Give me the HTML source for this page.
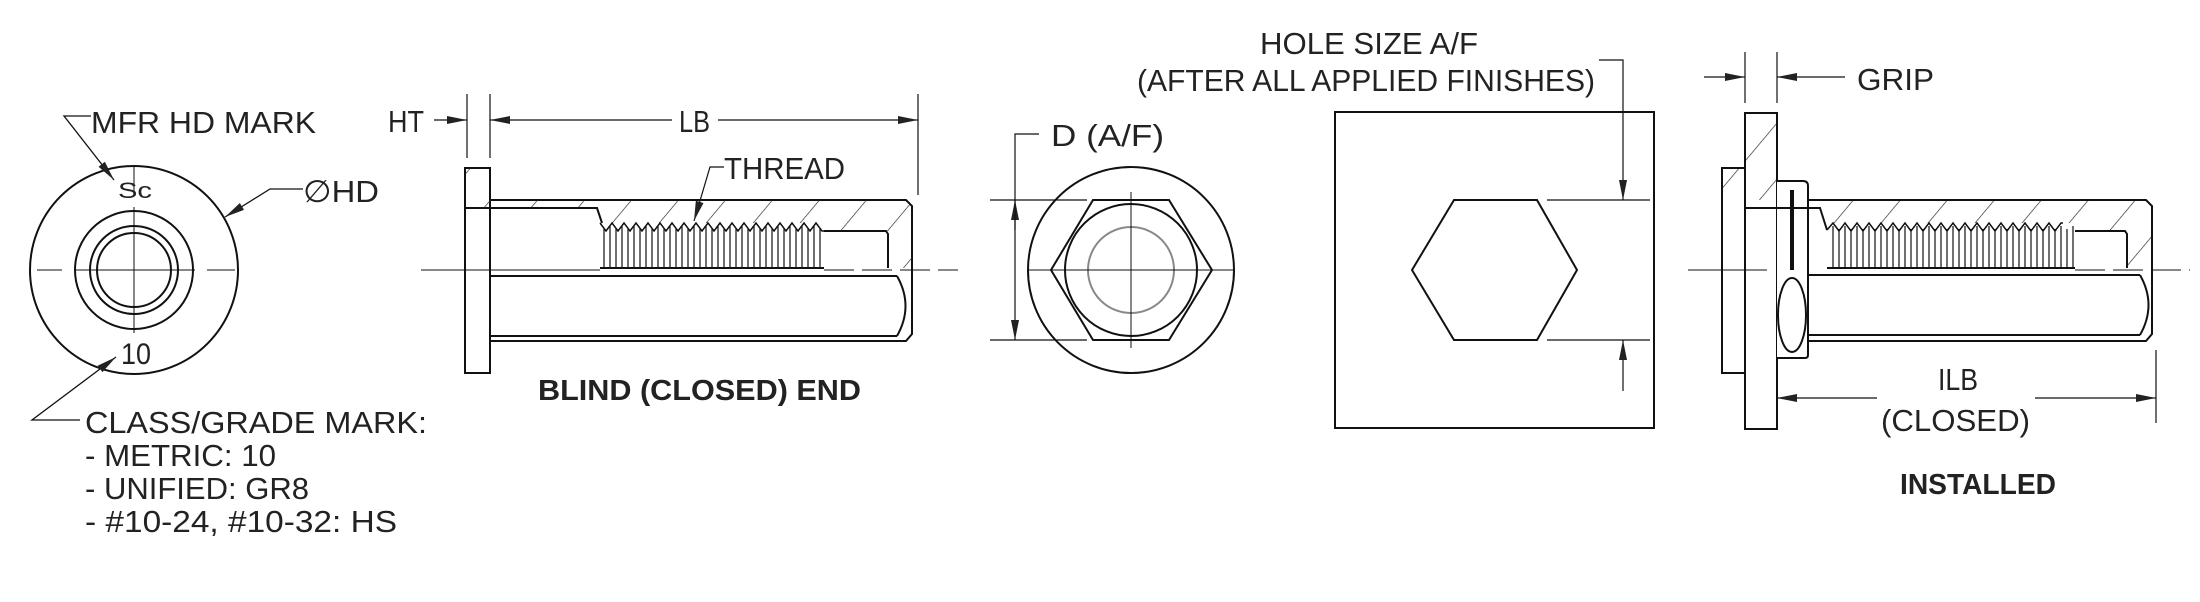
<!DOCTYPE html>
<html><head><meta charset="utf-8"><style>
html,body{margin:0;padding:0;background:#fff;}
svg{display:block;}
text{font-family:"Liberation Sans",sans-serif;fill:#222;}
.t{font-size:31px;}
.b{font-size:29px;font-weight:bold;}
</style></head><body>
<svg width="2200" height="602" viewBox="0 0 2200 602" xmlns="http://www.w3.org/2000/svg">
<defs>
<pattern id="h" width="36" height="36" patternUnits="userSpaceOnUse" patternTransform="rotate(40)">
<line x1="0" y1="0" x2="0" y2="36" stroke="#222" stroke-width="1.3"/>
</pattern>
<marker id="a" viewBox="0 0 20 8" refX="20" refY="4" markerWidth="20" markerHeight="8" markerUnits="userSpaceOnUse" orient="auto">
<path d="M0,0 L20,4 L0,8 z" fill="#222"/>
</marker>
</defs>
<g fill="none" stroke="#111" stroke-width="2">
<!-- left head view -->
<circle cx="134" cy="270" r="104"/>
<circle cx="134" cy="270" r="59"/>
<circle cx="134" cy="270" r="44"/>
<circle cx="134" cy="270" r="37"/>
<g stroke-width="1">
<line x1="37" y1="270" x2="62" y2="270"/><line x1="75" y1="270" x2="195" y2="270"/><line x1="207" y1="270" x2="235" y2="270"/>
<line x1="134" y1="167" x2="134" y2="195"/><line x1="134" y1="207" x2="134" y2="333"/>
</g>
<g stroke-width="1.3">
<polyline points="91,116 64,116 114,180" marker-end="url(#a)"/>
<polyline points="303,189 270,189 225,217" marker-end="url(#a)"/>
<polyline points="80,420 32,420 116,357" marker-end="url(#a)"/>
</g>

<!-- blind section view -->
<rect x="465" y="168" width="25" height="205"/>
<path d="M490,200 H906 L912,206 V334 L906,341 H490"/>
<path d="M490,208 H597 L602,223" />
<path d="M465,208 H490"/>
<path d="M824,231 H886 L888,234 V268"/>
<path d="M490,276 H897 M490,336 H897 M897,276 Q914,306 897,336" />
<path d="M1001,0" />
<!-- hatching blind -->
<path fill="url(#h)" stroke="none" d="M465,168 H490 V200 H906 L912,206 V268 H888 V231 H824 V223 H600 V208 H465 Z"/>
<path stroke-width="1.5" d="M600,223 l6,8 l6,-8 l6,8 l6,-8 l6,8 l6,-8 l6,8 l6,-8 l6,8 l6,-8 l6,8 l6,-8 l6,8 l6,-8 l6,8 l6,-8 l6,8 l6,-8 l6,8 l6,-8 l6,8 l6,-8 l6,8 l6,-8 l6,8 l6,-8 l6,8 l6,-8 l6,8 l6,-8 l6,8 l6,-8 l6,8 l6,-8 l6,8 l6,-8 l6,8 l2,0"/>
<g stroke-width="1.2">
<path d="M604,229V268M610,226V268M616,229V268M622,226V268M628,229V268M634,226V268M640,229V268M646,226V268M652,229V268M658,226V268M664,229V268M670,226V268M676,229V268M682,226V268M688,229V268M694,226V268M700,229V268M706,226V268M712,229V268M718,226V268M724,229V268M730,226V268M736,229V268M742,226V268M748,229V268M754,226V268M760,229V268M766,226V268M772,229V268M778,226V268M784,229V268M790,226V268M796,229V268M802,226V268M808,229V268M814,226V268M820,229V268"/>
</g>
<path stroke-width="2" d="M600,268 H824"/>
<line stroke-width="1" x1="421" y1="270" x2="600" y2="270"/>
<line stroke-width="1" x1="824" y1="270" x2="958" y2="270" stroke-dasharray="30,8"/>
<!-- HT / LB dims -->
<g stroke-width="1.2">
<line x1="467" y1="94" x2="467" y2="158"/><line x1="490" y1="94" x2="490" y2="158"/>
<line x1="918" y1="94" x2="918" y2="195"/>
<line x1="434" y1="120" x2="467" y2="120" marker-end="url(#a)"/>
<line x1="672" y1="120" x2="490" y2="120" marker-end="url(#a)"/>
<line x1="718" y1="120" x2="918" y2="120" marker-end="url(#a)"/>
<polyline points="724,167 710,167 694,221" marker-end="url(#a)"/>
</g>

<!-- hex view -->
<circle cx="1131" cy="270" r="103"/>
<polygon points="1093,200 1169,200 1212,270 1169,340 1093,340 1051,270"/>
<circle cx="1131" cy="270" r="66"/>
<circle cx="1131" cy="270" r="43" stroke="#888"/>
<g stroke-width="1">
<line x1="1131" y1="192" x2="1131" y2="348"/>
<line x1="1028" y1="270" x2="1234" y2="270"/>
</g>
<g stroke-width="1.2">
<line x1="990" y1="200" x2="1087" y2="200"/>
<line x1="990" y1="340" x2="1087" y2="340"/>
<line x1="1015" y1="230" x2="1015" y2="200" marker-end="url(#a)"/>
<line x1="1015" y1="310" x2="1015" y2="340" marker-end="url(#a)"/>
<polyline points="1015,230 1015,134 1039,134"/>
<line x1="1015" y1="230" x2="1015" y2="310"/>
</g>

<!-- plate -->
<rect x="1335" y="112" width="319" height="316"/>
<polygon points="1454,200 1537,200 1577,270 1537,340 1454,340 1412,270"/>
<g stroke-width="1.2">
<line x1="1547" y1="200" x2="1650" y2="200"/>
<line x1="1547" y1="340" x2="1650" y2="340"/>
<polyline points="1599,60 1623,60 1623,200" marker-end="url(#a)"/>
<polyline points="1623,391 1623,340" marker-end="url(#a)"/>
</g>

<!-- installed -->
<path fill="url(#h)" stroke="none" d="M1745,113 H1777 V200 H1745 Z M1722,168 H1745 V208 H1722 Z M1808,200 H2146 L2152,206 V268 H2127 V231 H2075 V223 H1827 L1820,208 H1777 V181 H1808 Z"/>
<rect x="1745" y="113" width="32" height="316"/>
<rect x="1722" y="168" width="23" height="205"/>
<path fill="#fff" d="M1777,181 H1803 Q1808,181 1808,186 V355 Q1808,358 1805,358 H1777"/>
<path d="M1745,208 H1820 L1827,230"/>
<path d="M1808,200 H2146 L2152,206 V334 L2146,341 H1808"/>
<path d="M2075,231 H2125 L2127,234 V268"/>
<path d="M1808,275 H2140 M1808,335 H2140 M2140,275 Q2157,305 2140,335"/>
<ellipse cx="1792" cy="315" rx="14" ry="37"/>
<line x1="1792" y1="190" x2="1792" y2="270" stroke-width="4"/>
<path stroke-width="1.5" d="M1827,230 l6,-7 l6,8 l6,-8 l6,8 l6,-8 l6,8 l6,-8 l6,8 l6,-8 l6,8 l6,-8 l6,8 l6,-8 l6,8 l6,-8 l6,8 l6,-8 l6,8 l6,-8 l6,8 l6,-8 l6,8 l6,-8 l6,8 l6,-8 l6,8 l6,-8 l6,8 l6,-8 l6,8 l6,-8 l6,8 l6,-8 l6,8 l6,-8 l6,8 l6,-8 l6,8 l6,-8 l2,0"/>
<path stroke-width="1.2" d="M1833,226V268M1839,229V268M1845,226V268M1851,229V268M1857,226V268M1863,229V268M1869,226V268M1875,229V268M1881,226V268M1887,229V268M1893,226V268M1899,229V268M1905,226V268M1911,229V268M1917,226V268M1923,229V268M1929,226V268M1935,229V268M1941,226V268M1947,229V268M1953,226V268M1959,229V268M1965,226V268M1971,229V268M1977,226V268M1983,229V268M1989,226V268M1995,229V268M2001,226V268M2007,229V268M2013,226V268M2019,229V268M2025,226V268M2031,229V268M2037,226V268M2043,229V268M2049,226V268M2055,229V268M2061,226V268M2067,229V268M2073,226V268"/>
<path stroke-width="2" d="M1827,268 H2075"/>
<line stroke-width="1" x1="1688" y1="270" x2="1767" y2="270"/>
<line stroke-width="1" x1="2075" y1="270" x2="2190" y2="270" stroke-dasharray="30,8"/>
<g stroke-width="1.2">
<line x1="1745" y1="52" x2="1745" y2="103"/><line x1="1777" y1="52" x2="1777" y2="103"/>
<line x1="1704" y1="77" x2="1745" y2="77" marker-end="url(#a)"/>
<line x1="1845" y1="77" x2="1777" y2="77" marker-end="url(#a)"/>
<line x1="2156" y1="350" x2="2156" y2="423"/>
<line x1="1877" y1="398" x2="1777" y2="398" marker-end="url(#a)"/>
<line x1="2035" y1="398" x2="2156" y2="398" marker-end="url(#a)"/>
</g>
</g>

<!-- text -->
<text class="t" x="91" y="133" textLength="225" lengthAdjust="spacingAndGlyphs">MFR HD MARK</text>
<text class="t" x="303" y="202" textLength="76" lengthAdjust="spacingAndGlyphs">∅HD</text>
<text x="118" y="198" style="font-size:22px" textLength="34" lengthAdjust="spacingAndGlyphs">Sc</text>
<text x="121" y="364" style="font-size:30px" textLength="30" lengthAdjust="spacingAndGlyphs">10</text>
<text class="t" x="85" y="433" textLength="342" lengthAdjust="spacingAndGlyphs">CLASS/GRADE MARK:</text>
<text class="t" x="85" y="466" textLength="191" lengthAdjust="spacingAndGlyphs">- METRIC: 10</text>
<text class="t" x="85" y="499" textLength="224" lengthAdjust="spacingAndGlyphs">- UNIFIED: GR8</text>
<text class="t" x="85" y="532" textLength="312" lengthAdjust="spacingAndGlyphs">- #10-24, #10-32: HS</text>
<text class="t" x="388" y="132" textLength="36" lengthAdjust="spacingAndGlyphs">HT</text>
<text class="t" x="679" y="132" textLength="31" lengthAdjust="spacingAndGlyphs">LB</text>
<text class="t" x="724" y="179" textLength="121" lengthAdjust="spacingAndGlyphs">THREAD</text>
<text class="b" x="538" y="400" textLength="323" lengthAdjust="spacingAndGlyphs">BLIND (CLOSED) END</text>
<text class="t" x="1051" y="146" textLength="113" lengthAdjust="spacingAndGlyphs">D (A/F)</text>
<text class="t" x="1260" y="54" textLength="218" lengthAdjust="spacingAndGlyphs">HOLE SIZE A/F</text>
<text class="t" x="1137" y="91" textLength="458" lengthAdjust="spacingAndGlyphs">(AFTER ALL APPLIED FINISHES)</text>
<text class="t" x="1857" y="90" textLength="77" lengthAdjust="spacingAndGlyphs">GRIP</text>
<text class="t" x="1938" y="390" textLength="40" lengthAdjust="spacingAndGlyphs">ILB</text>
<text class="t" x="1881" y="431" textLength="149" lengthAdjust="spacingAndGlyphs">(CLOSED)</text>
<text class="b" x="1900" y="494" textLength="156" lengthAdjust="spacingAndGlyphs">INSTALLED</text>
</svg>
</body></html>
